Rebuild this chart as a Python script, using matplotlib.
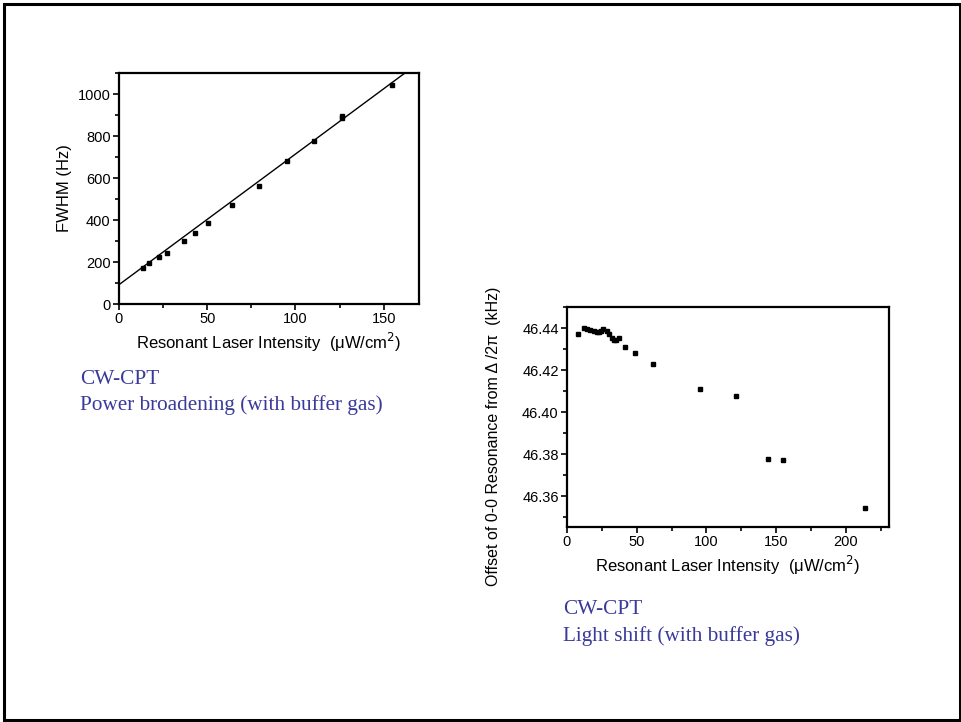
import matplotlib
matplotlib.use("Agg")
import matplotlib.pyplot as plt
from matplotlib.patches import Rectangle
from matplotlib.ticker import MultipleLocator, FormatStrFormatter

# ---- data: power broadening ----
pb_intensity = [13.4, 17.1, 22.8, 27.3, 36.9, 43.3, 50.4, 64.1, 79.2, 95.2, 110.5, 126.2, 126.6, 154.9]
pb_fwhm = [173, 194, 224, 244, 302, 340, 384, 472, 563, 679, 775, 885, 893, 1045]
fit_intercept = 92.0
fit_slope = 6.22

# ---- data: light shift ----
ls_intensity = [7.9, 12.0, 14.4, 16.8, 19.2, 21.6, 23.0, 24.5, 25.5, 29.0, 30.0, 32.0,
                33.5, 35.5, 37.0, 41.3, 48.5, 61.9, 95.3, 121.2, 144.1, 155.3, 213.9]
ls_offset = [46.4372, 46.4400, 46.4395, 46.4391, 46.4387, 46.4382, 46.4384, 46.4389,
             46.4394, 46.4389, 46.4373, 46.4355, 46.4343, 46.4345, 46.4352, 46.4311,
             46.4281, 46.4231, 46.4109, 46.4077, 46.3776, 46.3771, 46.3545]

text_color = "#3a3a9c"
sans = ["Liberation Sans", "DejaVu Sans"]
serif = ["Liberation Serif", "DejaVu Serif"]

fig = plt.figure(figsize=(9.62, 7.22), dpi=100)
fig.patch.set_facecolor("white")
fig.add_artist(Rectangle((4 / 962, 2 / 722), 956 / 962, 716 / 722, transform=fig.transFigure,
                         fill=False, edgecolor="black", linewidth=2.2))


def style_axes(ax):
    for s in ax.spines.values():
        s.set_linewidth(1.6)
    ax.tick_params(which="both", direction="out", width=1.2, labelsize=10.5, pad=2)
    ax.tick_params(which="major", length=4)
    ax.tick_params(which="minor", length=3)
    for lab in ax.get_xticklabels() + ax.get_yticklabels():
        lab.set_family(sans)


xlabel_text = "Resonant Laser Intensity  (\u03bcW/cm$^{2}$)"

# Left: power broadening
ax1 = fig.add_axes([119 / 962, 1 - 304 / 722, 300 / 962, 231 / 722])
ax1.plot(pb_intensity, pb_fwhm, linestyle="none", marker="s", color="black", markersize=3.4)
ax1.axline((0, fit_intercept), slope=fit_slope, color="black", linewidth=1.0)
ax1.set_xlim(0, 170)
ax1.set_ylim(0, 1100)
ax1.xaxis.set_major_locator(MultipleLocator(50))
ax1.xaxis.set_minor_locator(MultipleLocator(25))
ax1.yaxis.set_major_locator(MultipleLocator(200))
ax1.yaxis.set_minor_locator(MultipleLocator(100))
style_axes(ax1)
ax1.set_xlabel(xlabel_text, family=sans, fontsize=12, labelpad=3)
ax1.set_ylabel("FWHM (Hz)", family=sans, fontsize=12, labelpad=4)

# Right: light shift
ax2 = fig.add_axes([567 / 962, 1 - 527 / 722, 322 / 962, 220 / 722])
ax2.plot(ls_intensity, ls_offset, linestyle="none", marker="s", color="black", markersize=3.4)
ax2.set_xlim(0, 231)
ax2.set_ylim(46.3454, 46.4501)
ax2.xaxis.set_major_locator(MultipleLocator(50))
ax2.xaxis.set_minor_locator(MultipleLocator(25))
ax2.yaxis.set_major_locator(MultipleLocator(0.02))
ax2.yaxis.set_minor_locator(MultipleLocator(0.01))
ax2.yaxis.set_major_formatter(FormatStrFormatter("%.2f"))
style_axes(ax2)
ax2.set_xlabel(xlabel_text, family=sans, fontsize=12, labelpad=3)
ax2.set_ylabel("Offset of 0-0 Resonance from \u0394 /2\u03c0  (kHz)", family=sans, fontsize=11.5)
ax2.yaxis.set_label_coords(-0.205, 0.41)

# Captions
cap_size = 15.3
fig.text(80 / 962, 1 - 379 / 722, "CW-CPT", family=serif, fontsize=cap_size, color=text_color, va="center")
fig.text(80 / 962, 1 - 405 / 722, "Power broadening (with buffer gas)", family=serif, fontsize=cap_size,
         color=text_color, va="center")
fig.text(563 / 962, 1 - 610 / 722, "CW-CPT", family=serif, fontsize=cap_size, color=text_color, va="center")
fig.text(563 / 962, 1 - 636 / 722, "Light shift (with buffer gas)", family=serif, fontsize=cap_size,
         color=text_color, va="center")

fig.savefig("out.png", dpi=100)
